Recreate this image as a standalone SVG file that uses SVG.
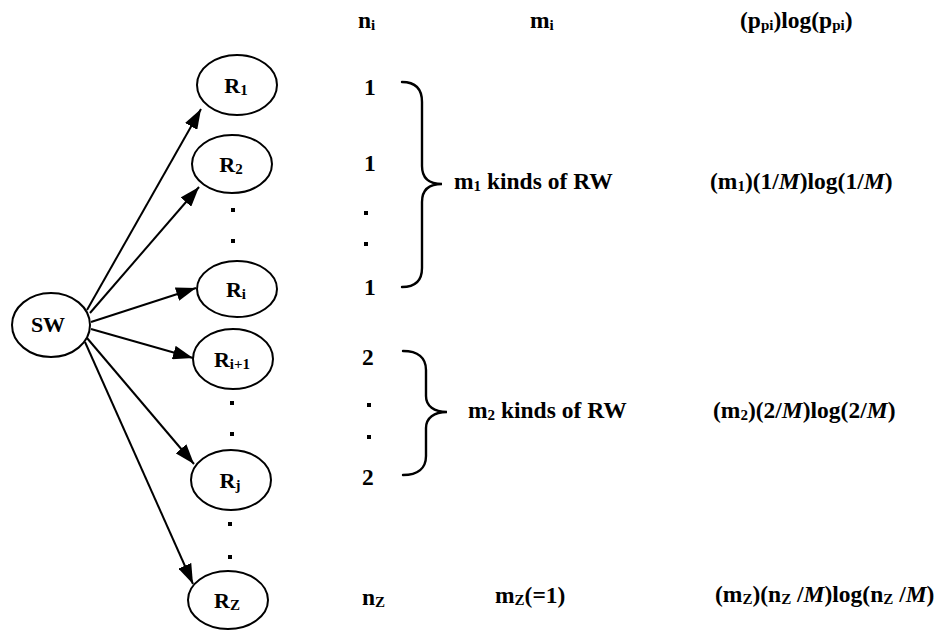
<svg xmlns="http://www.w3.org/2000/svg" width="943" height="630" viewBox="0 0 943 630">
  <style>
    .node { fill: #fff; stroke: #000; stroke-width: 2; }
    .edge { fill: none; stroke: #000; stroke-width: 2; }
    .brace { fill: none; stroke: #000; stroke-width: 2.4; stroke-linecap: round; }
    text { font-family: "Liberation Serif", "Times New Roman", serif; font-weight: bold; font-size: 23.5px; fill: #000; }
    .lbl { font-size: 22px; text-anchor: middle; }
    .sub { font-size: 15px; }
    .it { font-style: italic; }
    .dot { fill: #000; }
  </style>
  <defs>
    <marker id="arrow" viewBox="0 0 10 7" refX="10" refY="3.5" markerWidth="10" markerHeight="7" markerUnits="strokeWidth" orient="auto">
      <path d="M0,0 L10,3.5 L0,7 z" fill="#000"/>
    </marker>
  </defs>

  <!-- connectors from SW to each R node -->
  <g id="connectors">
    <line class="edge" x1="87" y1="310" x2="201" y2="109" marker-end="url(#arrow)"/>
    <line class="edge" x1="90" y1="313" x2="199" y2="187" marker-end="url(#arrow)"/>
    <line class="edge" x1="91" y1="322" x2="196" y2="288" marker-end="url(#arrow)"/>
    <line class="edge" x1="91" y1="329" x2="193" y2="358" marker-end="url(#arrow)"/>
    <line class="edge" x1="87" y1="338" x2="194" y2="464" marker-end="url(#arrow)"/>
    <line class="edge" x1="85" y1="342" x2="193" y2="584" marker-end="url(#arrow)"/>
  </g>

  <g id="node-SW">
    <ellipse class="node" cx="51" cy="325" rx="39" ry="32"/>
    <text class="lbl" x="48" y="332">SW</text>
  </g>
  <g id="node-R1">
    <ellipse class="node" cx="237" cy="85" rx="40" ry="30"/>
    <text class="lbl" x="236" y="93">R<tspan class="sub" dy="2">1</tspan></text>
  </g>
  <g id="node-R2">
    <ellipse class="node" cx="232" cy="164" rx="40" ry="29"/>
    <text class="lbl" x="231" y="172">R<tspan class="sub" dy="2">2</tspan></text>
  </g>
  <g id="node-Ri">
    <ellipse class="node" cx="237" cy="289" rx="40" ry="28"/>
    <text class="lbl" x="236" y="297">R<tspan class="sub" dy="2">i</tspan></text>
  </g>
  <g id="node-Ri1">
    <ellipse class="node" cx="233" cy="359" rx="40" ry="30"/>
    <text class="lbl" x="232" y="367">R<tspan class="sub" dy="2">i+1</tspan></text>
  </g>
  <g id="node-Rj">
    <ellipse class="node" cx="231" cy="480" rx="40" ry="30"/>
    <text class="lbl" x="230" y="488">R<tspan class="sub" dy="2">j</tspan></text>
  </g>
  <g id="node-RZ">
    <ellipse class="node" cx="228" cy="600" rx="40" ry="29"/>
    <text class="lbl" x="227" y="608">R<tspan class="sub" dy="2">Z</tspan></text>
  </g>

  <!-- ellipsis dots between nodes -->
  <g id="node-dots">
    <rect class="dot" x="231" y="208" width="4" height="4"/>
    <rect class="dot" x="231" y="239" width="4" height="4"/>
    <rect class="dot" x="230" y="401" width="4" height="4"/>
    <rect class="dot" x="230" y="432" width="4" height="4"/>
    <rect class="dot" x="228" y="522" width="4" height="4"/>
    <rect class="dot" x="228" y="555" width="4" height="4"/>
  </g>

  <!-- column headers -->
  <g id="headers">
    <text x="358" y="28">n<tspan class="sub" dy="2">i</tspan></text>
    <text x="530" y="28">m<tspan class="sub" dy="2">i</tspan></text>
    <text x="740" y="28">(p<tspan class="sub" dy="2">pi</tspan><tspan dy="-2">)log(p</tspan><tspan class="sub" dy="2">pi</tspan><tspan dy="-2">)</tspan></text>
  </g>

  <!-- n_i column -->
  <g id="col-n">
    <text x="364" y="95">1</text>
    <text x="364" y="171">1</text>
    <rect class="dot" x="364" y="211" width="4" height="4"/>
    <rect class="dot" x="364" y="242" width="4" height="4"/>
    <text x="364" y="295">1</text>
    <text x="362" y="365">2</text>
    <rect class="dot" x="367" y="403" width="4" height="4"/>
    <rect class="dot" x="367" y="435" width="4" height="4"/>
    <text x="362" y="485">2</text>
    <text x="362" y="605">n<tspan class="sub" dy="2">Z</tspan></text>
  </g>

  <!-- group braces -->
  <g id="brace-1">
    <path class="brace" d="M402,82 C416,82 422,90 422,102 L422,166 C422,178 429,184 442,184 C429,184 422,190 422,202 L422,268 C422,280 416,287 402,287"/>
    <text x="454" y="189">m<tspan class="sub" dy="2">1</tspan><tspan dy="-2"> kinds of RW</tspan></text>
  </g>
  <g id="brace-2">
    <path class="brace" d="M403,351 C418,351 426,358 426,370 L426,396 C426,406 434,412 447,412 C434,412 426,418 426,428 L426,456 C426,468 418,475 403,475"/>
    <text x="468" y="418">m<tspan class="sub" dy="2">2</tspan><tspan dy="-2"> kinds of RW</tspan></text>
  </g>
  <g id="row-Z-m">
    <text x="495" y="603">m<tspan class="sub" dy="2">Z</tspan><tspan dy="-2">(=1)</tspan></text>
  </g>

  <!-- entropy terms -->
  <g id="terms">
    <text x="710" y="189">(m<tspan class="sub" dy="2">1</tspan><tspan dy="-2">)(1/</tspan><tspan class="it">M</tspan>)log(1/<tspan class="it">M</tspan>)</text>
    <text x="713" y="418">(m<tspan class="sub" dy="2">2</tspan><tspan dy="-2">)(2/</tspan><tspan class="it">M</tspan>)log(2/<tspan class="it">M</tspan>)</text>
    <text x="715" y="602">(m<tspan class="sub" dy="2">Z</tspan><tspan dy="-2">)(n</tspan><tspan class="sub" dy="2">Z</tspan><tspan dy="-2"> /</tspan><tspan class="it">M</tspan>)log(n<tspan class="sub" dy="2">Z</tspan><tspan dy="-2"> /</tspan><tspan class="it">M</tspan>)</text>
  </g>
</svg>
